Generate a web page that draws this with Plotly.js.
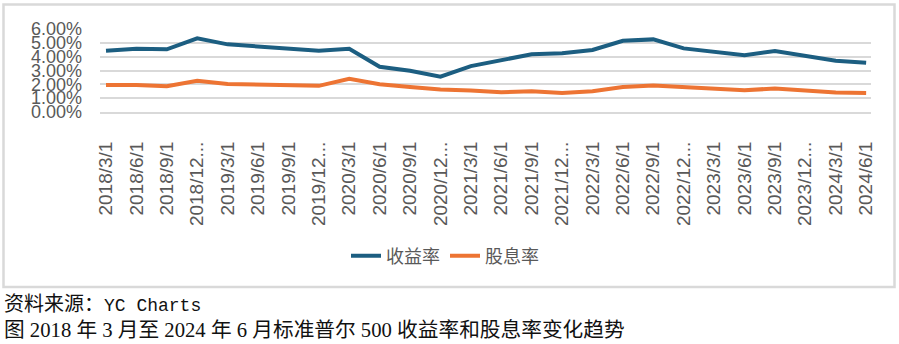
<!DOCTYPE html>
<html>
<head>
<meta charset="utf-8">
<script src="https://cdn.plot.ly/plotly-3.0.1.min.js"></script>
<style>
  html, body { margin: 0; padding: 0; background: #ffffff; }
  #chart { width: 899px; height: 344px; }
</style>
</head>
<body>
<div id="chart"></div>
<script>
// ---- data ----
const categories = [
  '2018/3/1','2018/6/1','2018/9/1','2018/12/1',
  '2019/3/1','2019/6/1','2019/9/1','2019/12/1',
  '2020/3/1','2020/6/1','2020/9/1','2020/12/1',
  '2021/3/1','2021/6/1','2021/9/1','2021/12/1',
  '2022/3/1','2022/6/1','2022/9/1','2022/12/1',
  '2023/3/1','2023/6/1','2023/9/1','2023/12/1',
  '2024/3/1','2024/6/1'
];
const tickLabels = [
  '2018/3/1','2018/6/1','2018/9/1','2018/12...',
  '2019/3/1','2019/6/1','2019/9/1','2019/12...',
  '2020/3/1','2020/6/1','2020/9/1','2020/12...',
  '2021/3/1','2021/6/1','2021/9/1','2021/12...',
  '2022/3/1','2022/6/1','2022/9/1','2022/12...',
  '2023/3/1','2023/6/1','2023/9/1','2023/12...',
  '2024/3/1','2024/6/1'
];
const earningsYield = [4.43, 4.57, 4.53, 5.33, 4.89, 4.72, 4.60, 4.43, 4.57, 3.27, 2.98, 2.55,
                       3.32, 3.75, 4.17, 4.24, 4.48, 5.15, 5.25, 4.60, 4.35, 4.11, 4.40, 4.06,
                       3.70, 3.56];
const dividendYield = [1.96, 1.95, 1.86, 2.25, 2.03, 1.98, 2.00, 1.89, 2.40, 2.01, 1.81, 1.63,
                       1.55, 1.43, 1.50, 1.38, 1.50, 1.81, 1.92, 1.79, 1.70, 1.57, 1.70, 1.52,
                       1.41, 1.38];
const seriesNames = ['收益率', '股息率'];
const yTicks = [0, 1, 2, 3, 4, 5, 6];
const yTickLabels = ['0.00%', '1.00%', '2.00%', '3.00%', '4.00%', '5.00%', '6.00%'];
const sourceText = '资料来源：<span style="font-family:\'Liberation Mono\';font-size:18px">YC Charts</span>';
const captionText = '图 2018 年 3 月至 2024 年 6 月标准普尔 500 收益率和股息率变化趋势';

// ---- layout helpers (pixel -> paper) ----
const W = 899, H = 344;
const M = { l: 100, r: 28, t: 29, b: 232 };
const PW = W - M.l - M.r, PH = H - M.t - M.b;
const px = x => (x - M.l) / PW;
const py = y => (H - M.b - y) / PH;

const grey = '#595959';
const lineGrey = '#d9d9d9';

const traces = [
  { type: 'scatter', mode: 'lines', name: seriesNames[0], x: categories, y: earningsYield,
    line: { color: '#1c5e81', width: 4 }, hoverinfo: 'skip' },
  { type: 'scatter', mode: 'lines', name: seriesNames[1], x: categories, y: dividendYield,
    line: { color: '#ed7433', width: 4 }, hoverinfo: 'skip' }
];

const layout = {
  width: W, height: H,
  margin: M,
  paper_bgcolor: '#ffffff',
  plot_bgcolor: '#ffffff',
  font: { family: 'Liberation Sans, Arial, sans-serif', color: grey },
  showlegend: true,
  legend: {
    orientation: 'h',
    x: px(346), xanchor: 'left',
    y: py(256), yanchor: 'middle',
    font: { family: 'Noto Sans CJK SC, sans-serif', size: 18, color: grey },
    bgcolor: 'rgba(0,0,0,0)',
    itemgap: 30
  },
  xaxis: {
    type: 'category',
    categoryorder: 'array', categoryarray: categories,
    tickvals: categories, ticktext: tickLabels,
    tickangle: -90,
    ticks: '',
    tickfont: { size: 19, color: grey },
    ticklabelstandoff: 20,
    range: [-0.197, 25.16],
    showgrid: false,
    zeroline: false,
    showline: true, linecolor: lineGrey, linewidth: 2,
    fixedrange: true
  },
  xaxis2: {
    type: 'linear',
    overlaying: 'x', anchor: 'y', side: 'bottom',
    range: [0, 25.357],
    tick0: 0, dtick: 1,
    ticks: 'outside', ticklen: 6, tickwidth: 2, tickcolor: lineGrey,
    showticklabels: false, showgrid: false, zeroline: false, showline: false,
    fixedrange: true
  },
  yaxis: {
    range: [0, 6],
    tickvals: yTicks,
    ticktext: yTickLabels,
    tickfont: { size: 18, color: grey },
    ticklabelstandoff: 17,
    showgrid: true, gridcolor: lineGrey, gridwidth: 2,
    zeroline: false,
    showline: false,
    ticks: '',
    fixedrange: true
  },
  shapes: [
    { type: 'rect', xref: 'paper', yref: 'paper',
      x0: px(3.5), x1: px(894.5), y0: py(287), y1: py(4.5),
      line: { color: lineGrey, width: 2.5 }, fillcolor: 'rgba(0,0,0,0)', layer: 'below' }
  ],
  annotations: [
    { xref: 'paper', yref: 'paper', x: px(2), y: py(304), xanchor: 'left', yanchor: 'middle',
      showarrow: false, text: sourceText,
      font: { family: 'Liberation Serif, Noto Sans CJK SC, serif', size: 20, color: '#111111' } },
    { xref: 'paper', yref: 'paper', x: px(2), y: py(330), xanchor: 'left', yanchor: 'middle',
      showarrow: false, text: captionText,
      font: { family: 'Liberation Serif, Noto Sans CJK SC, serif', size: 20.7, color: '#111111' } }
  ]
};

Plotly.newPlot('chart', traces, layout, { staticPlot: true, displayModeBar: false });
</script>
</body>
</html>
